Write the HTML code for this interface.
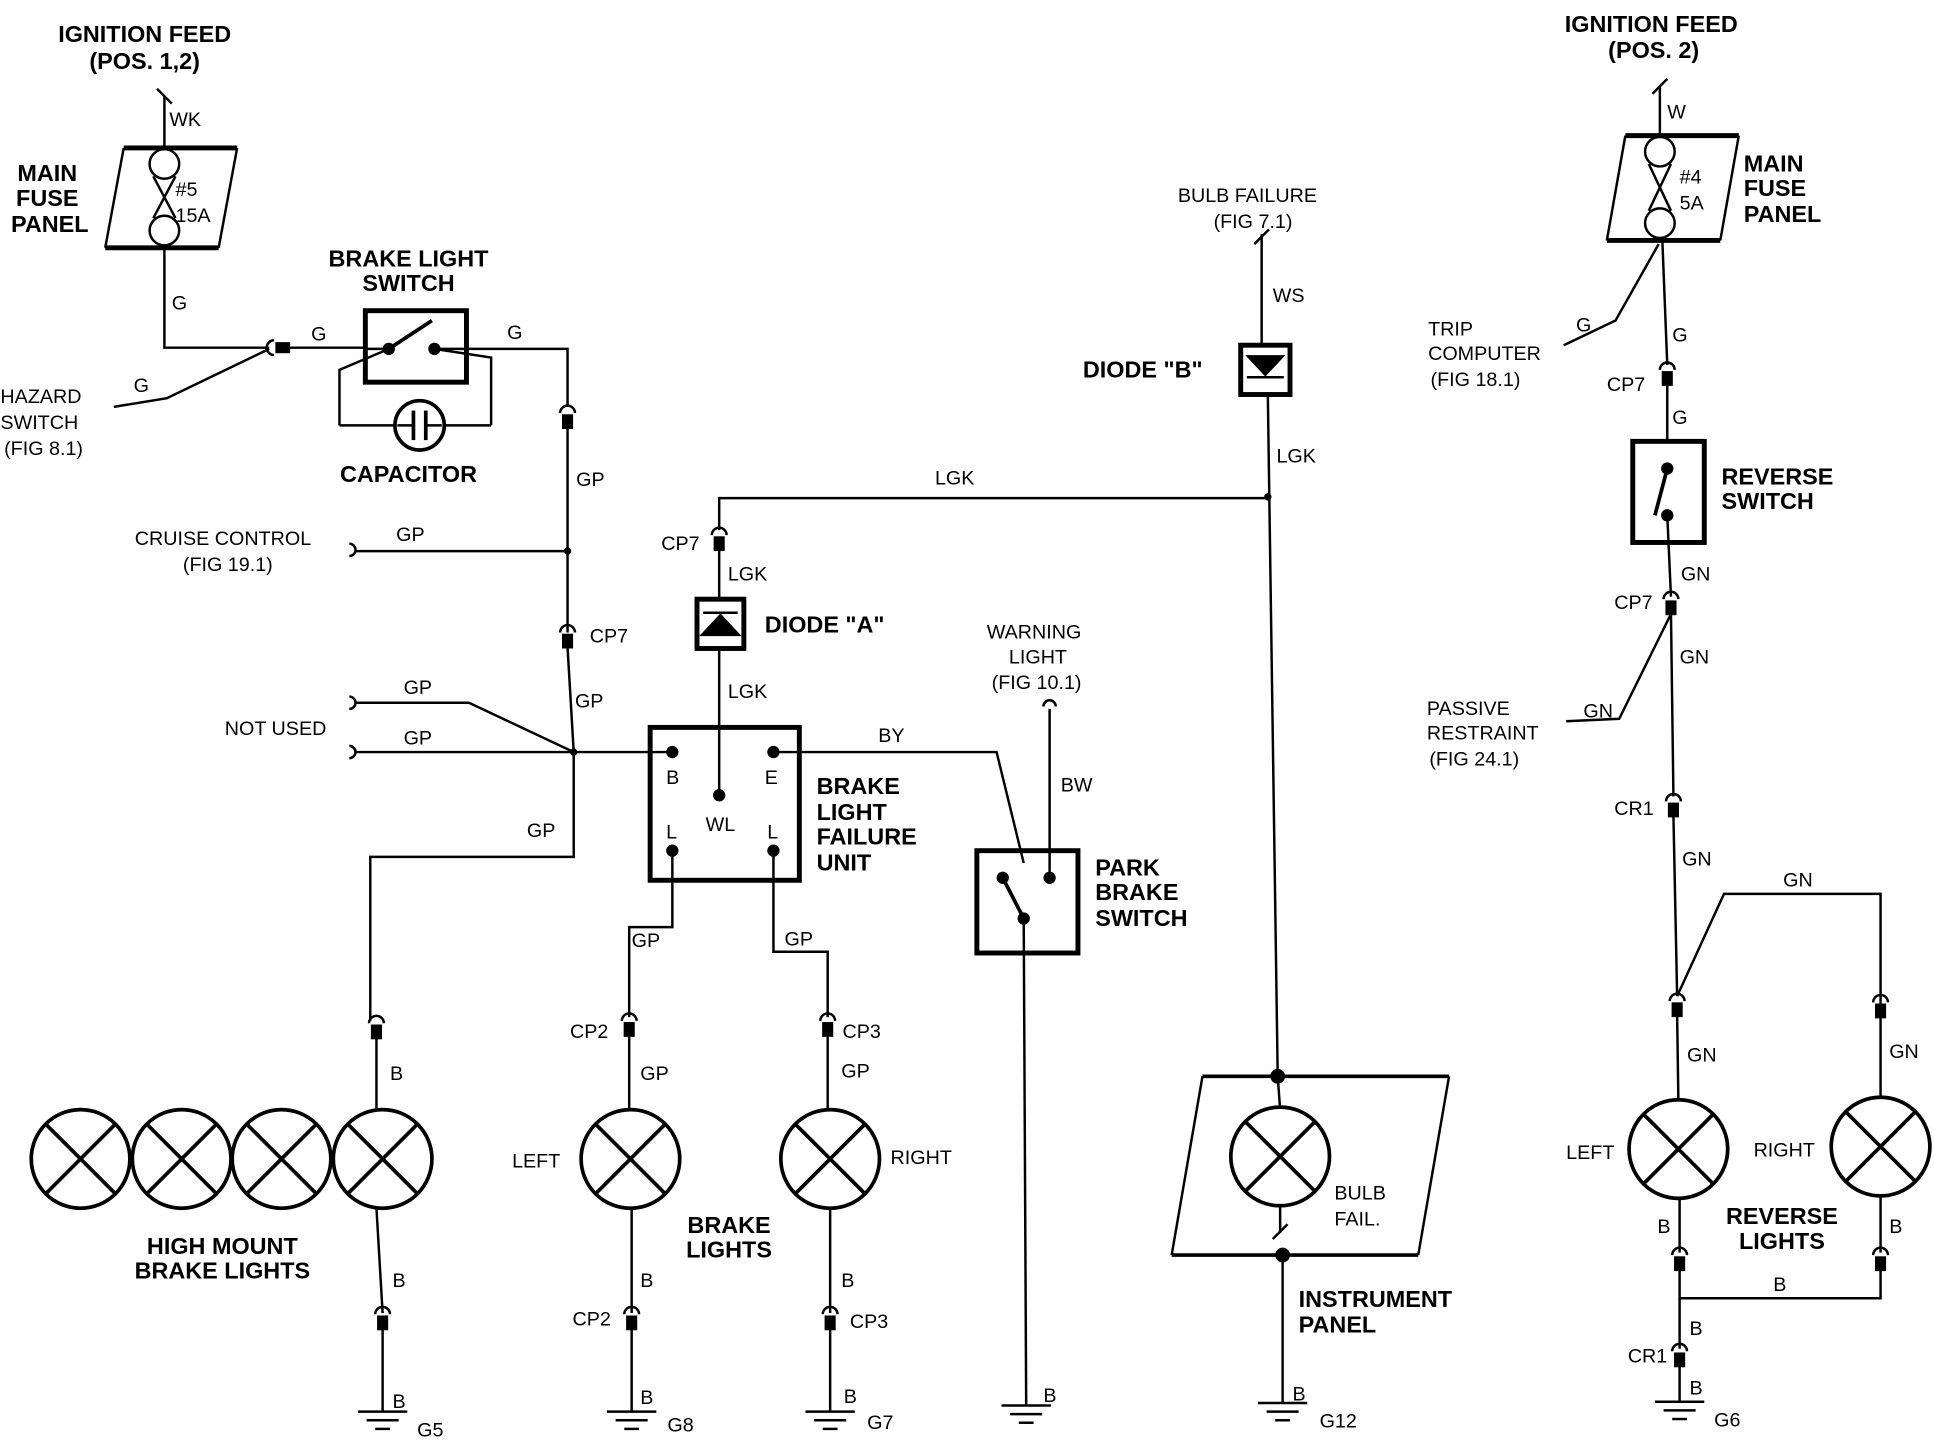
<!DOCTYPE html>
<html><head><meta charset="utf-8"><style>
html,body{margin:0;padding:0;background:#fff}
svg{display:block}
text{font-family:"Liberation Sans",sans-serif;fill:#000}
.b{font-weight:bold;font-size:19px}
.n{font-size:16px}
</style></head><body>
<svg width="1934" height="1440" viewBox="0 0 1568 1168" xmlns="http://www.w3.org/2000/svg">
<defs>
<g id="con"><path d="M-6,-2 A6,6 0 0 1 6,-2" fill="none" stroke="#000" stroke-width="2"/><rect x="-3.5" y="0" width="7" height="10" fill="#000"/></g>
<g id="gnd"><line x1="-20" y1="0" x2="20" y2="0"/><line x1="-13" y1="7" x2="13" y2="7"/><line x1="-6" y1="14" x2="6" y2="14"/></g>
<g id="lamp"><circle r="40" fill="#fff"/><line x1="-28" y1="-28" x2="28" y2="28"/><line x1="-28" y1="28" x2="28" y2="-28"/></g>
</defs>
<g stroke="#000" stroke-width="2" fill="none">
<!-- left fuse panel -->
<line x1="100" y1="120" x2="192" y2="120" stroke-width="4"/>
<line x1="85" y1="201" x2="177" y2="201" stroke-width="4"/>
<line x1="100" y1="120" x2="85" y2="201"/><line x1="192" y1="120" x2="177" y2="201"/>
<line x1="133" y1="78" x2="133" y2="120"/><line x1="127" y1="72" x2="139" y2="84"/>
<circle cx="133" cy="133" r="12"/><circle cx="133" cy="187" r="12"/>
<line x1="124" y1="143" x2="142" y2="177"/><line x1="142" y1="143" x2="124" y2="177"/>
<polyline points="133,201 133,282 218,282"/>
<polyline points="92,330 135,323 218,283"/>
<use href="#con" transform="translate(224,282) rotate(-90)"/>
<line x1="228" y1="282" x2="296" y2="282"/>
<!-- brake switch -->
<rect x="296" y="252" width="82" height="58" stroke-width="4"/>
<line x1="296" y1="283" x2="315" y2="283"/>
<line x1="315" y1="283" x2="350" y2="260" stroke-width="3"/>
<polyline points="275,345 275,300 315,283"/>
<polyline points="398,345 398,290 352,283"/>
<line x1="275" y1="345" x2="320" y2="345"/><line x1="360" y1="345" x2="398" y2="345"/>
<circle cx="340" cy="345" r="20" stroke-width="3"/>
<line x1="335" y1="333" x2="335" y2="357" stroke-width="3"/><line x1="345" y1="333" x2="345" y2="357" stroke-width="3"/>
<line x1="322" y1="345" x2="335" y2="345"/><line x1="345" y1="345" x2="358" y2="345"/>
<polyline points="352,283 378,283 460,283 460,330"/>
<use href="#con" transform="translate(460,337)"/>
<line x1="460" y1="347" x2="460" y2="513"/>
<use href="#con" transform="translate(460,515)"/>
<line x1="460" y1="525" x2="465" y2="610"/>
<path d="M283,441 a5,5 0 0 1 0,10"/><line x1="288" y1="447" x2="460" y2="447"/>
<path d="M283,565 a5,5 0 0 1 0,10"/><polyline points="288,570 380,570 465,610"/>
<path d="M283,605 a5,5 0 0 1 0,10"/><line x1="288" y1="610" x2="545" y2="610"/>
<polyline points="465,610 465,695 300,695 300,828"/>
<use href="#con" transform="translate(305,832)"/>
<line x1="305" y1="842" x2="305" y2="900"/>
<line x1="305" y1="980" x2="310" y2="1065"/>
<use href="#con" transform="translate(310,1068)"/>
<line x1="310" y1="1078" x2="310" y2="1145"/>
<use href="#gnd" transform="translate(310,1145)"/>
<use href="#lamp" transform="translate(65,940)" stroke-width="3"/>
<use href="#lamp" transform="translate(147,940)" stroke-width="3"/>
<use href="#lamp" transform="translate(228,940)" stroke-width="3"/>
<use href="#lamp" transform="translate(310,940)" stroke-width="3"/>
<!-- failure unit -->
<polyline points="583,430 583,404 1028,404"/>
<use href="#con" transform="translate(583,436)"/>
<line x1="583" y1="446" x2="583" y2="486"/>
<rect x="565" y="486" width="38" height="40" stroke-width="4"/>
<line x1="570" y1="497" x2="598" y2="497"/>
<path d="M569,515 L584,499 L599,515 Z" fill="#000"/>
<line x1="583" y1="526" x2="583" y2="643"/>
<rect x="527" y="590" width="121" height="124" stroke-width="4"/>
<polyline points="627,610 808,610 830,700"/>
<polyline points="545,690 545,752 510,752 510,825"/>
<use href="#con" transform="translate(510,830)"/>
<line x1="510" y1="840" x2="510" y2="900"/>
<line x1="512" y1="980" x2="512" y2="1065"/>
<use href="#con" transform="translate(512,1068)"/>
<line x1="512" y1="1078" x2="512" y2="1145"/>
<use href="#gnd" transform="translate(512,1145)"/>
<polyline points="627,690 627,772 671,772 671,825"/>
<use href="#con" transform="translate(671,830)"/>
<line x1="671" y1="840" x2="671" y2="900"/>
<line x1="673" y1="980" x2="673" y2="1065"/>
<use href="#con" transform="translate(673,1068)"/>
<line x1="673" y1="1078" x2="673" y2="1145"/>
<use href="#gnd" transform="translate(673,1145)"/>
<use href="#lamp" transform="translate(511,940)" stroke-width="3"/>
<use href="#lamp" transform="translate(673,940)" stroke-width="3"/>
<!-- park brake -->
<path d="M846,573 a5,5 0 0 1 10,0"/><line x1="851" y1="575" x2="851" y2="710"/>
<rect x="792" y="690" width="82" height="83" stroke-width="4"/>
<line x1="813" y1="712" x2="830" y2="745" stroke-width="3"/>
<line x1="830" y1="745" x2="832" y2="1140"/>
<use href="#gnd" transform="translate(832,1140)"/>
<!-- diode B -->
<line x1="1023" y1="190" x2="1023" y2="280"/><line x1="1017" y1="198" x2="1029" y2="186"/>
<rect x="1006" y="280" width="40" height="40" stroke-width="4"/>
<path d="M1012,289 L1040,289 L1026,304 Z" fill="#000"/><line x1="1011" y1="306" x2="1041" y2="306"/>
<line x1="1028" y1="320" x2="1036" y2="872"/>
<!-- instrument panel -->
<line x1="975" y1="873" x2="1175" y2="873" stroke-width="3"/>
<line x1="950" y1="1018" x2="1150" y2="1018" stroke-width="3"/>
<line x1="975" y1="873" x2="950" y2="1018"/><line x1="1175" y1="873" x2="1150" y2="1018"/>
<line x1="1036" y1="873" x2="1038" y2="900"/>
<use href="#lamp" transform="translate(1038,938)" stroke-width="3"/>
<line x1="1038" y1="978" x2="1038" y2="1000"/><line x1="1032" y1="1005" x2="1044" y2="993"/>
<line x1="1040" y1="1018" x2="1040" y2="1138"/>
<use href="#gnd" transform="translate(1040,1138)"/>
<!-- right fuse -->
<line x1="1318" y1="110" x2="1410" y2="110" stroke-width="4"/>
<line x1="1303" y1="195" x2="1395" y2="195" stroke-width="4"/>
<line x1="1318" y1="110" x2="1303" y2="195"/><line x1="1410" y1="110" x2="1395" y2="195"/>
<line x1="1346" y1="70" x2="1346" y2="110"/><line x1="1340" y1="76" x2="1352" y2="64"/>
<circle cx="1346" cy="123" r="12"/><circle cx="1346" cy="181" r="12"/>
<line x1="1337" y1="133" x2="1355" y2="171"/><line x1="1355" y1="133" x2="1337" y2="171"/>
<line x1="1348" y1="195" x2="1352" y2="296"/>
<polyline points="1268,280 1310,260 1345,198"/>
<use href="#con" transform="translate(1352,302)"/>
<line x1="1352" y1="312" x2="1352" y2="358"/>
<rect x="1324" y="358" width="58" height="82" stroke-width="4"/>
<line x1="1352" y1="380" x2="1342" y2="418" stroke-width="3"/>
<line x1="1352" y1="418" x2="1355" y2="484"/>
<use href="#con" transform="translate(1355,488)"/>
<line x1="1355" y1="498" x2="1357" y2="646"/>
<polyline points="1270,585 1313,583 1355,498"/>
<use href="#con" transform="translate(1357,652)"/>
<line x1="1357" y1="662" x2="1360" y2="808"/>
<polyline points="1360,808 1398,725 1525,725 1525,815"/>
<use href="#con" transform="translate(1360,814)"/>
<use href="#con" transform="translate(1525,815)"/>
<line x1="1360" y1="824" x2="1361" y2="892"/>
<line x1="1525" y1="825" x2="1525" y2="890"/>
<use href="#lamp" transform="translate(1361,932)" stroke-width="3"/>
<use href="#lamp" transform="translate(1525,930)" stroke-width="3"/>
<line x1="1362" y1="972" x2="1362" y2="1016"/>
<line x1="1525" y1="970" x2="1525" y2="1016"/>
<use href="#con" transform="translate(1362,1020)"/>
<use href="#con" transform="translate(1525,1020)"/>
<polyline points="1362,1030 1362,1053 1525,1053 1525,1030"/>
<line x1="1362" y1="1053" x2="1362" y2="1094"/>
<use href="#con" transform="translate(1362,1098)"/>
<line x1="1362" y1="1108" x2="1362" y2="1137"/>
<use href="#gnd" transform="translate(1362,1137)"/>
</g>
<g fill="#000">
<circle cx="465" cy="610" r="3"/><circle cx="460" cy="447" r="3"/><circle cx="1028" cy="403" r="3"/>
<circle cx="315" cy="283" r="5"/><circle cx="352" cy="283" r="5"/>
<circle cx="545" cy="610" r="5"/><circle cx="627" cy="610" r="5"/><circle cx="583" cy="645" r="5"/>
<circle cx="545" cy="690" r="5"/><circle cx="627" cy="690" r="5"/>
<circle cx="813" cy="712" r="5"/><circle cx="851" cy="712" r="5"/><circle cx="830" cy="745" r="5"/>
<circle cx="1036" cy="873" r="6"/><circle cx="1040" cy="1018" r="6"/>
<circle cx="1352" cy="380" r="5"/><circle cx="1352" cy="418" r="5"/>
</g>
<g class="b" text-anchor="middle">
<text x="117" y="34">IGNITION FEED</text><text x="117" y="56">(POS. 1,2)</text>
<text x="38" y="147">MAIN</text><text x="38" y="167">FUSE</text><text x="40" y="188">PANEL</text>
<text x="331" y="216">BRAKE LIGHT</text><text x="331" y="236">SWITCH</text>
<text x="331" y="391">CAPACITOR</text>
<text x="1339" y="26">IGNITION FEED</text><text x="1341" y="47">(POS. 2)</text>
<text x="180" y="1017">HIGH MOUNT</text><text x="180" y="1037">BRAKE LIGHTS</text>
<text x="591" y="1000">BRAKE</text><text x="591" y="1020">LIGHTS</text>
<text x="1445" y="993">REVERSE</text><text x="1445" y="1013">LIGHTS</text>
</g>
<g class="b">
<text x="878" y="306">DIODE "B"</text>
<text x="620" y="513">DIODE "A"</text>
<text x="662" y="644">BRAKE</text><text x="662" y="665">LIGHT</text><text x="662" y="685">FAILURE</text><text x="662" y="706">UNIT</text>
<text x="888" y="710">PARK</text><text x="888" y="730">BRAKE</text><text x="888" y="751">SWITCH</text>
<text x="1053" y="1060">INSTRUMENT</text><text x="1053" y="1081">PANEL</text>
<text x="1414" y="139">MAIN</text><text x="1414" y="159">FUSE</text><text x="1414" y="180">PANEL</text>
<text x="1396" y="393">REVERSE</text><text x="1396" y="413">SWITCH</text>
</g>
<g class="n">
<text x="137" y="102">WK</text><text x="142" y="159">#5</text><text x="142" y="180">15A</text>
<text x="139" y="251">G</text><text x="252" y="276">G</text><text x="108" y="318">G</text><text x="411" y="275">G</text>
<text x="0" y="327">HAZARD</text><text x="0" y="348">SWITCH</text><text x="3" y="369">(FIG 8.1)</text>
<text x="467" y="394">GP</text><text x="109" y="442">CRUISE CONTROL</text><text x="148" y="463">(FIG  19.1)</text><text x="321" y="439">GP</text>
<text x="478" y="521">CP7</text><text x="466" y="574">GP</text>
<text x="327" y="563">GP</text><text x="327" y="604">GP</text><text x="182" y="596">NOT USED</text>
<text x="427" y="679">GP</text><text x="316" y="876">B</text><text x="318" y="1044">B</text><text x="318" y="1142">B</text><text x="338" y="1165">G5</text>
<text x="758" y="393">LGK</text><text x="536" y="446">CP7</text><text x="590" y="471">LGK</text><text x="590" y="566">LGK</text>
<text x="712" y="602">BY</text><text x="540" y="636">B</text><text x="620" y="636">E</text><text x="572" y="674">WL</text><text x="540" y="680">L</text><text x="622" y="680">L</text>
<text x="512" y="768">GP</text><text x="636" y="767">GP</text>
<text x="462" y="842">CP2</text><text x="519" y="876">GP</text><text x="683" y="842">CP3</text><text x="682" y="874">GP</text>
<text x="415" y="947">LEFT</text><text x="722" y="944">RIGHT</text>
<text x="519" y="1044">B</text><text x="464" y="1075">CP2</text><text x="519" y="1139">B</text><text x="541" y="1161">G8</text>
<text x="682" y="1044">B</text><text x="689" y="1077">CP3</text><text x="684" y="1138">B</text><text x="703" y="1159">G7</text>
<text x="800" y="518">WARNING</text><text x="818" y="538">LIGHT</text><text x="804" y="559">(FIG 10.1)</text><text x="860" y="642">BW</text>
<text x="846" y="1137">B</text>
<text x="955" y="164">BULB FAILURE</text><text x="984" y="185">(FIG 7.1)</text><text x="1032" y="245">WS</text><text x="1035" y="375">LGK</text>
<text x="1082" y="973">BULB</text><text x="1082" y="994">FAIL.</text><text x="1048" y="1136">B</text><text x="1070" y="1158">G12</text>
<text x="1352" y="96">W</text><text x="1362" y="149">#4</text><text x="1362" y="170">5A</text>
<text x="1158" y="272">TRIP</text><text x="1158" y="292">COMPUTER</text><text x="1160" y="313">(FIG 18.1)</text><text x="1278" y="269">G</text>
<text x="1356" y="277">G</text><text x="1303" y="317">CP7</text><text x="1356" y="344">G</text>
<text x="1363" y="471">GN</text><text x="1309" y="494">CP7</text><text x="1362" y="538">GN</text>
<text x="1157" y="580">PASSIVE</text><text x="1157" y="600">RESTRAINT</text><text x="1159" y="621">(FIG 24.1)</text><text x="1284" y="582">GN</text>
<text x="1309" y="661">CR1</text><text x="1364" y="702">GN</text><text x="1446" y="719">GN</text>
<text x="1368" y="861">GN</text><text x="1532" y="858">GN</text>
<text x="1270" y="940">LEFT</text><text x="1422" y="938">RIGHT</text>
<text x="1344" y="1000">B</text><text x="1532" y="1000">B</text><text x="1438" y="1047">B</text>
<text x="1370" y="1083">B</text><text x="1320" y="1105">CR1</text><text x="1370" y="1131">B</text><text x="1390" y="1157">G6</text>
</g>
</svg>
</body></html>
